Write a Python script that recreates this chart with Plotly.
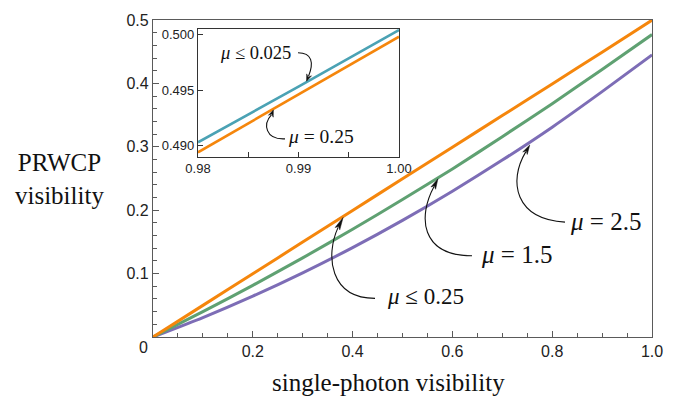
import numpy as np
import plotly.graph_objects as go

# ---------------- data ----------------
single_photon_vis = [0.0, 0.1, 0.2, 0.3, 0.4, 0.5, 0.6, 0.7, 0.8, 0.9, 1.0]
vis_mu_le_025 = [0.0, 0.0499, 0.0998, 0.1497, 0.1996, 0.2495, 0.2994, 0.3493, 0.3992, 0.4493, 0.4998]
vis_mu_15 = [0.0, 0.0399, 0.0815, 0.1248, 0.1700, 0.2168, 0.2650, 0.3160, 0.3680, 0.4220, 0.4770]
vis_mu_25 = [0.0, 0.0306, 0.0644, 0.1012, 0.1410, 0.1840, 0.2300, 0.2790, 0.3310, 0.3870, 0.4450]

inset_vis = [0.98, 0.99, 1.00]
inset_mu_le_0025 = [0.4903, 0.4953, 0.5004]
inset_mu_025 = [0.4894, 0.4946, 0.4998]

x_ticks = [0.2, 0.4, 0.6, 0.8, 1.0]
x_ticklabels = ["0.2", "0.4", "0.6", "0.8", "1.0"]
y_ticks = [0.1, 0.2, 0.3, 0.4, 0.5]
y_ticklabels = ["0.1", "0.2", "0.3", "0.4", "0.5"]
inset_x_ticks = [0.98, 0.985, 0.99, 0.995, 1.00]
inset_x_ticklabels = ["0.98", "", "0.99", "", "1.00"]
inset_y_ticks = [0.490, 0.495, 0.500]
inset_y_ticklabels = ["0.490", "0.495", "0.500"]

ORANGE = "#F5860C"
GREEN = "#5FA172"
PURPLE = "#7D6DB6"
TEAL = "#4BA2B4"
FRAME = "#5a5a5a"

W, H = 685, 403
L, R, T, B = 153, 33, 17, 66
PW, PH = W - L - R, H - T - B
X_RANGE = [0, 1]
Y_RANGE = [0, 0.5]
IN_X = [0.98, 1.00]
IN_Y = [0.4890, 0.5005]
IN_DOM_X = [(198 - L) / PW, (399 - L) / PW]
IN_DOM_Y = [(H - B - 155) / PH, (H - B - 26) / PH]


def paper(xp, yp):
    return (xp - L) / PW, (H - B - yp) / PH


def main_px(xv, yv):
    return L + (xv - X_RANGE[0]) / (X_RANGE[1] - X_RANGE[0]) * PW, \
        (H - B) - (yv - Y_RANGE[0]) / (Y_RANGE[1] - Y_RANGE[0]) * PH


def inset_px(xv, yv):
    x0 = L + IN_DOM_X[0] * PW
    x1 = L + IN_DOM_X[1] * PW
    y0 = (H - B) - IN_DOM_Y[0] * PH
    y1 = (H - B) - IN_DOM_Y[1] * PH
    return x0 + (xv - IN_X[0]) / (IN_X[1] - IN_X[0]) * (x1 - x0), \
        y0 - (yv - IN_Y[0]) / (IN_Y[1] - IN_Y[0]) * (y0 - y1)


fig = go.Figure()

for ys, col in [(vis_mu_25, PURPLE), (vis_mu_15, GREEN), (vis_mu_le_025, ORANGE)]:
    fig.add_trace(go.Scatter(x=single_photon_vis, y=ys, mode="lines",
                             line=dict(color=col, width=3, shape="spline", smoothing=0.6),
                             xaxis="x", yaxis="y", showlegend=False, hoverinfo="skip"))

for ys, col in [(inset_mu_le_0025, TEAL), (inset_mu_025, ORANGE)]:
    fig.add_trace(go.Scatter(x=inset_vis, y=ys, mode="lines",
                             line=dict(color=col, width=2.6),
                             xaxis="x2", yaxis="y2", showlegend=False, hoverinfo="skip"))

shapes = []
annotations = []


def arrow(start, c1, c2, base, tip):
    pts = [paper(*p) for p in (start, c1, c2, base)]
    path = "M {},{} C {},{} {},{} {},{}".format(*[v for p in pts for v in p])
    shapes.append(dict(type="path", path=path, xref="paper", yref="paper",
                       line=dict(color="#111111", width=1.1)))
    bx, by = base
    tx, ty = tip
    dx, dy = tx - bx, ty - by
    n = np.hypot(dx, dy)
    ux, uy = dx / n, dy / n
    nx, ny = -uy, ux
    w = 2.6
    p1 = paper(tx, ty)
    p2 = paper(bx - ux * 1.5 + nx * w, by - uy * 1.5 + ny * w)
    p3 = paper(bx + ux * 1.0, by + uy * 1.0)
    p4 = paper(bx - ux * 1.5 - nx * w, by - uy * 1.5 - ny * w)
    tri = "M {},{} L {},{} L {},{} L {},{} Z".format(*p1, *p2, *p3, *p4)
    shapes.append(dict(type="path", path=tri, xref="paper", yref="paper",
                       fillcolor="#111111", line=dict(color="#111111", width=0.5)))


def label(text, xp, yp, size):
    px_, py_ = paper(xp, yp)
    annotations.append(dict(text=text, x=px_, y=py_, xref="paper", yref="paper",
                            xanchor="left", yanchor="middle", showarrow=False,
                            font=dict(family="Liberation Serif", size=size, color="#111111")))


# main-plot arrows, tips anchored on the curves
tx, ty = main_px(0.381, float(np.interp(0.381, single_photon_vis, vis_mu_le_025)))
arrow((375, 298), (330, 298), (325, 255), (tx - 5, ty + 11), (tx, ty + 1))
label("<i>μ</i> ≤ 0.25", 385, 296, 23)

tx, ty = main_px(0.571, float(np.interp(0.571, single_photon_vis, vis_mu_15)))
arrow((472, 255), (420, 255), (418, 215), (tx - 4, ty + 9), (tx, ty + 1))
label("<i>μ</i> = 1.5", 479, 254, 25)

tx, ty = main_px(0.755, float(np.interp(0.755, single_photon_vis, vis_mu_25)))
arrow((565, 221), (515, 218), (508, 180), (tx - 4, ty + 10), (tx, ty + 3))
label("<i>μ</i> = 2.5", 568, 220, 25)

# inset arrows
tx, ty = inset_px(0.9908, float(np.interp(0.9908, inset_vis, inset_mu_le_0025)))
arrow((298, 50), (312, 50), (314, 60), (tx + 2, ty - 6), (tx, ty - 1))
label("<i>μ</i> ≤ 0.025", 218, 50, 18.5)

tx, ty = inset_px(0.9875, float(np.interp(0.9875, inset_vis, inset_mu_025)))
arrow((285, 137), (265, 138), (263, 122), (tx - 2, ty + 6), (tx, ty + 1))
label("<i>μ</i> = 0.25", 286, 135, 19.5)

# axis titles and shared origin label
annotations.append(dict(text="single-photon visibility", x=paper(388, 0)[0], y=paper(0, 383)[1],
                        xref="paper", yref="paper", xanchor="center", yanchor="middle",
                        showarrow=False, font=dict(family="Liberation Serif", size=25, color="#111111")))
annotations.append(dict(text="PRWCP<br>visibility", x=paper(59, 0)[0], y=paper(0, 177)[1],
                        xref="paper", yref="paper", xanchor="center", yanchor="middle",
                        showarrow=False, align="center",
                        font=dict(family="Liberation Serif", size=25, color="#111111")))
annotations.append(dict(text="0", x=paper(143, 0)[0], y=paper(0, 348)[1],
                        xref="paper", yref="paper", xanchor="center", yanchor="middle",
                        showarrow=False, font=dict(family="Liberation Sans", size=16, color="#222222")))

tickfont = dict(family="Liberation Sans", size=16, color="#222222")
insetfont = dict(family="Liberation Sans", size=13, color="#222222")

fig.update_layout(
    width=W, height=H,
    margin=dict(l=L, r=R, t=T, b=B),
    paper_bgcolor="white", plot_bgcolor="white",
    shapes=shapes, annotations=annotations,
    xaxis=dict(range=X_RANGE, domain=[0, 1], tickmode="array", tickvals=x_ticks, ticktext=x_ticklabels,
               ticks="inside", ticklen=6, tickwidth=1, tickcolor=FRAME, showgrid=False, zeroline=False,
               showline=True, linecolor=FRAME, linewidth=1.2, mirror=True, tickfont=tickfont,
               minor=dict(tickmode="linear", tick0=0, dtick=0.05, ticks="inside", ticklen=4,
                          tickcolor=FRAME, showgrid=False)),
    yaxis=dict(range=Y_RANGE, domain=[0, 1], tickmode="array", tickvals=y_ticks, ticktext=y_ticklabels,
               ticks="inside", ticklen=6, tickwidth=1, tickcolor=FRAME, showgrid=False, zeroline=False,
               showline=True, linecolor=FRAME, linewidth=1.2, mirror=True, tickfont=tickfont,
               minor=dict(tickmode="linear", tick0=0, dtick=0.02, ticks="inside", ticklen=4,
                          tickcolor=FRAME, showgrid=False)),
    xaxis2=dict(range=IN_X, domain=IN_DOM_X, anchor="y2", tickmode="array", tickvals=inset_x_ticks,
                ticktext=inset_x_ticklabels, ticks="inside", ticklen=5, tickcolor="#333333",
                showgrid=False, zeroline=False, showline=True, linecolor="#333333", linewidth=1.2,
                mirror=True, tickfont=insetfont),
    yaxis2=dict(range=IN_Y, domain=IN_DOM_Y, anchor="x2", tickmode="array", tickvals=inset_y_ticks,
                ticktext=inset_y_ticklabels, ticks="inside", ticklen=5, tickcolor="#333333",
                showgrid=False, zeroline=False, showline=True, linecolor="#333333", linewidth=1.2,
                mirror=True, tickfont=insetfont),
)

fig.write_html("out.html", config={"displayModeBar": False},
               post_script="document.body.style.margin='0';")
